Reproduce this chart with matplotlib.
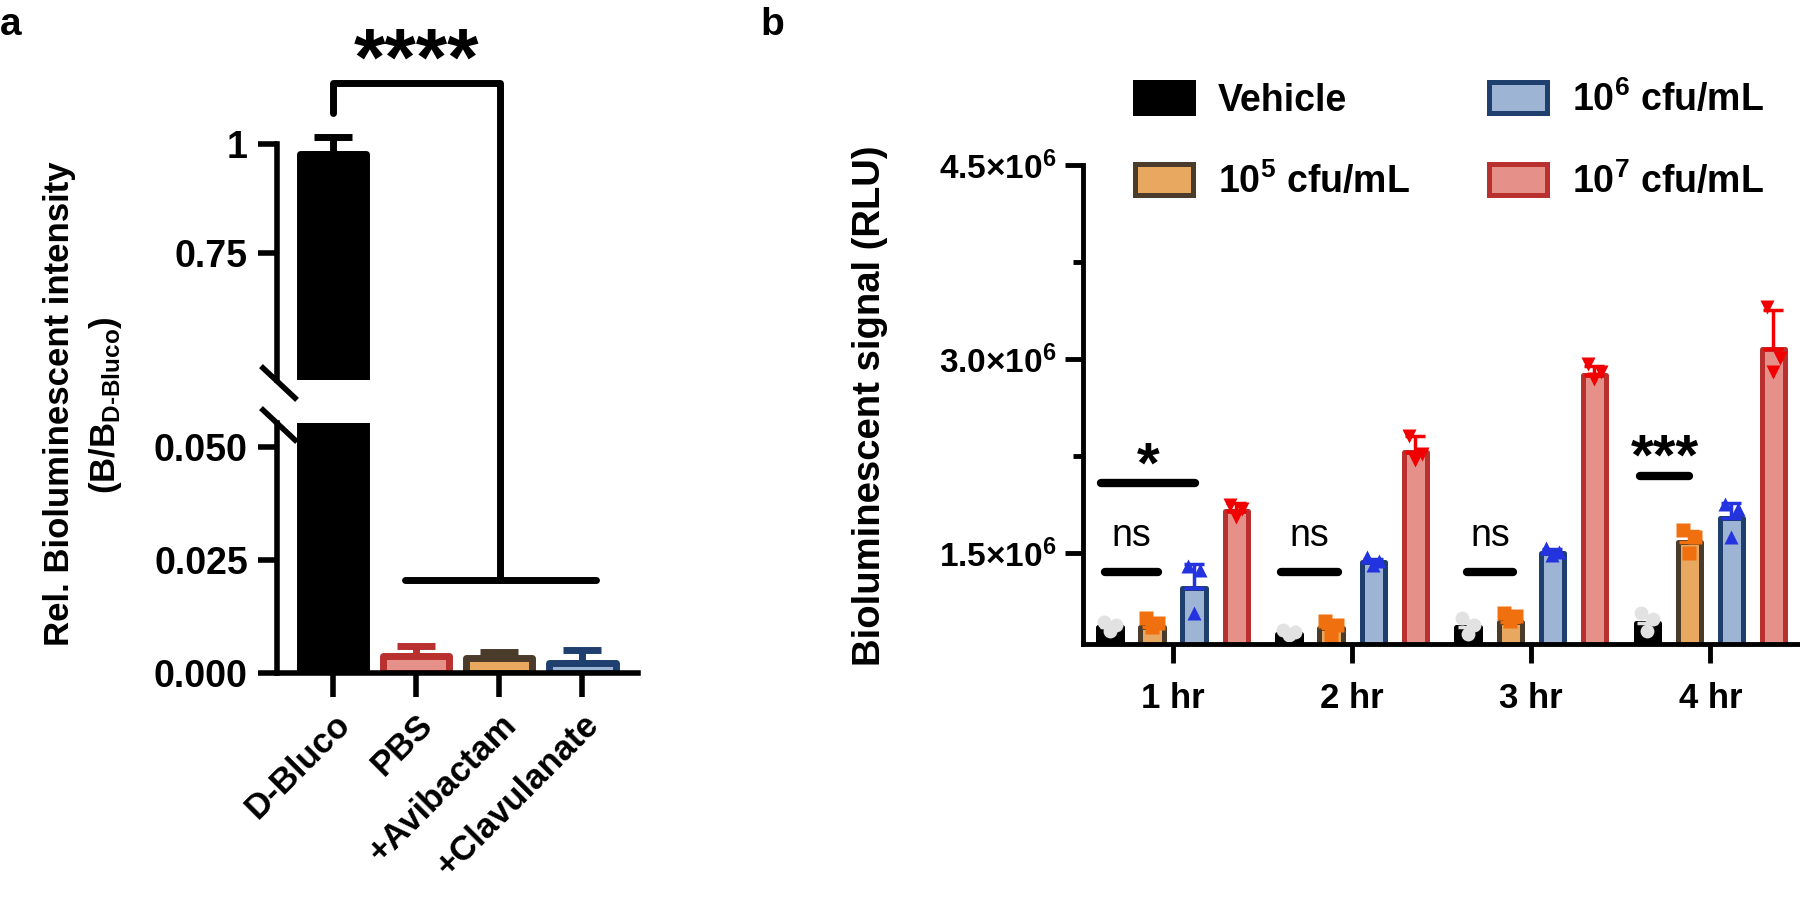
import numpy as np
import matplotlib
matplotlib.use('Agg')
from matplotlib import pyplot as plt
from matplotlib.lines import Line2D
from matplotlib.patches import Patch

plt.rcParams['font.family'] = ['Liberation Sans', 'DejaVu Sans']
plt.rcParams['font.weight'] = 'bold'
plt.rcParams['mathtext.fontset'] = 'custom'
plt.rcParams['mathtext.rm'] = 'Liberation Sans:bold'
plt.rcParams['mathtext.bf'] = 'Liberation Sans:bold'
plt.rcParams['mathtext.it'] = 'Liberation Sans:bold'

# ---- panel a data ----
treat = ['D-Bluco', 'PBS', '+Avibactam', '+Clavulanate']
rel_mean = [0.977, 0.0038, 0.0033, 0.0022]
rel_err = [0.038, 0.0022, 0.0013, 0.0028]
treat_face = ['black', '#e6908a', '#e8a860', '#9db4d4']
treat_edge = ['black', '#b8312f', '#4a3b2a', '#1f3f6e']

# ---- panel b data (x1e6 RLU) ----
times = ['1 hr', '2 hr', '3 hr', '4 hr']
groups = ['Vehicle', '10$^5$ cfu/mL', '10$^6$ cfu/mL', '10$^7$ cfu/mL']
vehicle = [0.93, 0.88, 0.93, 0.96]
cfu5 = [0.93, 0.92, 0.97, 1.59]
cfu6 = [1.23, 1.43, 1.50, 1.77]
cfu7 = [1.83, 2.28, 2.88, 3.08]
vehicle_sd = [0.03, 0.02, 0.05, 0.06]
cfu5_sd = [0.04, 0.05, 0.03, 0.08]
cfu6_sd = [0.19, 0.03, 0.03, 0.12]
cfu7_sd = [0.06, 0.13, 0.07, 0.30]
vehicle_pts = [[0.97, 0.95, 0.90], [0.91, 0.89, 0.87], [1.00, 0.95, 0.88], [1.04, 0.99, 0.90]]
cfu5_pts = [[1.00, 0.96, 0.93], [0.98, 0.95, 0.86], [1.04, 1.02, 0.98], [1.68, 1.63, 1.50]]
cfu6_pts = [[1.40, 1.37, 1.04], [1.47, 1.44, 1.41], [1.54, 1.51, 1.49], [1.88, 1.84, 1.63]]
cfu7_pts = [[1.87, 1.84, 1.78], [2.41, 2.27, 2.22], [2.96, 2.90, 2.85], [3.40, 3.01, 2.90]]

# significance marks in panel b: time index, line start/end offset, line height, label
sig_time = [0, 0, 1, 2, 3]
sig_x0 = [-0.40, -0.38, -0.40, -0.36, -0.39]
sig_x1 = [0.12, -0.085, -0.08, -0.10, -0.12]
sig_y = [2.04, 1.36, 1.36, 1.36, 2.10]
sig_lab = ['*', 'ns', 'ns', 'ns', '***']

W, H = 1800, 902
fig = plt.figure(figsize=(W / 100, H / 100), dpi=100)


def box(l, t, r, b):
    return [l / W, 1 - b / H, (r - l) / W, (b - t) / H]


def px(x, y):
    return (x / W, 1 - y / H)


def fig_xy(ax, x, y):
    return fig.transFigure.inverted().transform(ax.transData.transform((x, y)))


# ================= panel a =================
axt = fig.add_axes(box(277, 144, 638, 380))
axl = fig.add_axes(box(277, 423, 638, 673))
xa = np.arange(len(treat))
for ax in (axt, axl):
    bars = ax.bar(xa, rel_mean, width=0.8, color=treat_face, edgecolor=treat_edge,
                  linewidth=5, zorder=2)
    for b in bars:
        b.set_joinstyle('round')
    ax.set_xlim(-0.675, 3.67)
    for s in ('top', 'right'):
        ax.spines[s].set_visible(False)
    ax.spines['left'].set_linewidth(4)
    ax.spines['bottom'].set_linewidth(4)
    ax.tick_params(axis='y', length=14, width=4, pad=7, labelsize=27)
    ax.tick_params(axis='x', length=17, width=4, pad=8)

axt.errorbar(xa[:1], rel_mean[:1], yerr=[[0], rel_err[:1]], fmt='none', ecolor='black',
             elinewidth=5, capsize=14, capthick=5, clip_on=False, zorder=3)
for i in range(1, 4):
    axl.errorbar(xa[i], rel_mean[i], yerr=[[0], [rel_err[i]]], fmt='none',
                 ecolor=treat_edge[i], elinewidth=5, capsize=14, capthick=5, zorder=1)

axt.set_ylim(0.46, 1.0)
axt.set_yticks([0.75, 1.0])
axt.set_yticklabels(['0.75', '1'])
axt.spines['bottom'].set_visible(False)
axt.set_xticks([])

axl.set_ylim(0, 0.0553)
axl.set_yticks([0, 0.025, 0.05])
axl.set_yticklabels(['0.000', '0.025', '0.050'])
axl.set_xticks(xa)
axl.set_xticklabels(treat, rotation=45, ha='right', rotation_mode='anchor', fontsize=25)

# axis break marks
for y0 in (368, 410):
    fig.add_artist(Line2D([263 / W, 295 / W], [1 - y0 / H, 1 - (y0 + 30) / H],
                          color='black', lw=4))

# significance bracket
p1 = fig_xy(axt, 0, 1.071)
p2 = fig_xy(axt, 0, 1.14)
p3 = fig_xy(axt, 2.01, 1.14)
p4 = fig_xy(axl, 2.01, 0.0206)
fig.add_artist(Line2D([p1[0], p2[0], p3[0], p4[0]], [p1[1], p2[1], p3[1], p4[1]],
                      color='black', lw=5, solid_joinstyle='round', solid_capstyle='round'))
q1 = fig_xy(axl, 0.87, 0.0206)
q2 = fig_xy(axl, 3.16, 0.0206)
fig.add_artist(Line2D([q1[0], q2[0]], [q1[1], q2[1]], color='black', lw=5,
                      solid_capstyle='round'))
axt.text(1.0, 1.135, '****', ha='center', va='baseline', fontsize=58, clip_on=False)

fig.text(59 / W, 1 - 404 / H, 'Rel. Bioluminescent intensity', rotation=90,
         ha='center', va='center', fontsize=25)
fig.text(105 / W, 1 - 405 / H, r'(B/B$_{\mathrm{D\text{-}Bluco}}$)', rotation=90,
         ha='center', va='center', fontsize=25)

# ================= panel b =================
axb = fig.add_axes(box(1083, 165, 1798, 644))
xb = np.arange(len(times))
offs = (np.arange(4) - 1.5) * 0.235
means = [vehicle, cfu5, cfu6, cfu7]
sds = [vehicle_sd, cfu5_sd, cfu6_sd, cfu7_sd]
pts = [vehicle_pts, cfu5_pts, cfu6_pts, cfu7_pts]
faces = ['black', '#e8a860', '#9db4d4', '#e6908a']
edges = ['black', '#4a3b2a', '#1f3f6e', '#b8312f']
mcols = ['#e2e2e2', '#f07010', '#2433e0', '#f00000']
marks = ['o', 's', '^', 'v']
jit = [-0.035, 0.035, 0.0]

handles = []
for j in range(4):
    m = np.array(means[j]) * 1e6
    bars = axb.bar(xb + offs[j], m, width=0.13, color=faces[j], edgecolor=edges[j],
                   linewidth=3.6, zorder=2)
    for b in bars:
        b.set_joinstyle('round')
    axb.errorbar(xb + offs[j], m, yerr=[np.zeros(4), np.array(sds[j]) * 1e6], fmt='none',
                 ecolor=mcols[j], elinewidth=2.5, capsize=7, capthick=2.5, zorder=3)
    for k in range(3):
        axb.plot(xb + offs[j] + jit[k], np.array(pts[j])[:, k] * 1e6, ls='none',
                 marker=marks[j], ms=10, mfc=mcols[j], mec='none', zorder=4)
    handles.append(Patch(facecolor=faces[j], edgecolor=edges[j], linewidth=3.6,
                         joinstyle='round'))

axb.set_xlim(-0.503, 3.49)
axb.set_ylim(0.8e6, 4.5e6)
axb.set_yticks([1.5e6, 3.0e6, 4.5e6])
axb.set_yticklabels(['1.5×10$^6$', '3.0×10$^6$', '4.5×10$^6$'])
axb.set_yticks([2.25e6, 3.75e6], minor=True)
axb.set_xticks(xb)
axb.set_xticklabels(times)
for s in ('top', 'right'):
    axb.spines[s].set_visible(False)
for s in ('left', 'bottom'):
    axb.spines[s].set_linewidth(3.5)
    axb.spines[s].set_zorder(5)
axb.tick_params(axis='y', which='major', length=13, width=3.5, pad=6, labelsize=24)
axb.tick_params(axis='y', which='minor', length=7, width=3.5)
axb.tick_params(axis='x', length=14, width=3.5, pad=13, labelsize=25)

for i in range(len(sig_lab)):
    x0 = xb[sig_time[i]] + sig_x0[i]
    x1 = xb[sig_time[i]] + sig_x1[i]
    y = sig_y[i] * 1e6
    axb.plot([x0, x1], [y, y], color='black', lw=6, solid_capstyle='round', zorder=5)
    if sig_lab[i] == 'ns':
        axb.text((x0 + x1) / 2, y + 0.2e6, 'ns', ha='center', va='baseline',
                 fontsize=27, fontweight='normal')
    else:
        axb.text((x0 + x1) / 2, y + 0.01e6, sig_lab[i], ha='center', va='baseline',
                 fontsize=42)

fig.text(870 / W, 1 - 406 / H, 'Bioluminescent signal (RLU)', rotation=90,
         ha='center', va='center', fontsize=27.5)

axb.legend(handles, groups, loc='upper left', bbox_to_anchor=px(1135, 80),
           bbox_transform=fig.transFigure, ncol=2, frameon=False, fontsize=27,
           handlelength=1.55, handleheight=0.9, handletextpad=0.67,
           columnspacing=2.1, labelspacing=1.16, borderpad=0, borderaxespad=0)

fig.text(0 / W, 1 - 35 / H, 'a', fontsize=28, va='baseline')
fig.text(760 / W, 1 - 35 / H, 'b', fontsize=28, va='baseline')

fig.savefig('out.png', dpi=100, facecolor='white')
